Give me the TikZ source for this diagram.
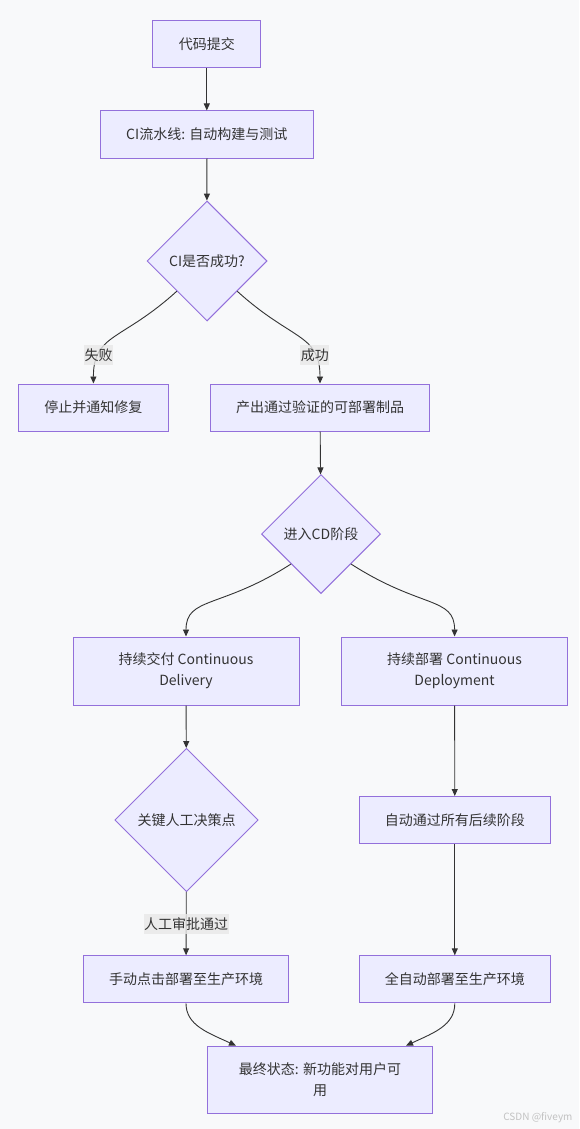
\documentclass[tikz,border=0pt]{standalone}
\usepackage{fontspec}
\setmainfont{Noto Sans CJK SC}
\usepackage{xcolor}
\definecolor{cBg}{HTML}{F8F9FA}
\definecolor{cFill}{HTML}{ECECFF}
\definecolor{cBorder}{HTML}{9370DB}
\definecolor{cLine}{HTML}{333333}
\definecolor{cText}{HTML}{333333}
\definecolor{cLabel}{HTML}{E8E8E8}
\definecolor{cMark}{HTML}{C2C2C2}
\usepackage{tikz}
\usetikzlibrary{arrows.meta,shapes.geometric}
\tikzset{
  node-box/.style={draw=cBorder,fill=cFill,line width=1pt,minimum height=47pt,
    inner sep=0pt,align=center,text=cText,font=\fontsize{14}{21}\selectfont},
  node-decision/.style={draw=cBorder,fill=cFill,line width=1pt,diamond,aspect=1,
    inner sep=0pt,align=center,text=cText,font=\fontsize{14}{21}\selectfont},
  % 边上的标签：半透明灰底
  edge-label/.style={fill=cLabel,fill opacity=0.8,text opacity=1,text=cText,
    inner sep=0.5pt,minimum height=20pt,font=\fontsize{14}{21}\selectfont},
  arrow/.style={-{Triangle[length=7pt,width=6pt]},line width=0.9pt,draw=cLine},
}
\begin{document}
\begin{tikzpicture}[x=1pt,y=-1pt]
  \fill[cBg] (0,0) rectangle (579,1129);
  \useasboundingbox (0,0) rectangle (579,1129);
  \node[node-box,minimum width=108pt] (commit) at (206.8,44.5) {代码提交};
  \node[node-box,minimum width=213pt] (ci) at (206.8,134.5) {CI流水线: 自动构建与测试};
  \node[node-decision,minimum size=120pt] (ciok) at (207,261) {CI是否成功?};
  \node[node-box,minimum width=150pt] (fix) at (93.4,407.5) {停止并通知修复};
  \node[node-box,minimum width=218.6pt] (artifact) at (320,407.5) {产出通过验证的可部署制品};
  \node[node-decision,minimum size=119pt] (cd) at (321,534) {进入CD阶段};
  \node[node-box,minimum width=226pt,minimum height=68pt] (delivery) at (186,671) {持续交付 Continuous\\Delivery};
  \node[node-box,minimum width=226pt,minimum height=68pt] (deploy) at (454.6,671) {持续部署 Continuous\\Deployment};
  \node[node-decision,minimum size=143.4pt] (manual) at (186.5,820) {关键人工决策点};
  \node[node-box,minimum width=191pt] (autopass) at (454.8,820) {自动通过所有后续阶段};
  \node[node-box,minimum width=205pt] (manualdeploy) at (186,979.3) {手动点击部署至生产环境};
  \node[node-box,minimum width=191pt] (autodeploy) at (454.8,979.3) {全自动部署至生产环境};
  \node[node-box,minimum width=225pt,minimum height=67pt] (final) at (320,1079.7) {最终状态: 新功能对用户可\\用};
  \node[anchor=east,text=cMark,font=\fontsize{10}{12}\selectfont] (mark) at (576,1118) {CSDN @fiveym};

  \foreach \a/\b in {commit/ci, ci/ciok, artifact/cd, delivery/manual, deploy/autopass, autopass/autodeploy}
    \draw[arrow] (\a) -- (\b);
  \draw[arrow] (ciok.south west) .. controls +(-55,50) and +(0,-50) .. node[edge-label,pos=0.75] {失败} (fix.north);
  \draw[arrow] (ciok.south east) .. controls +(55,50) and +(0,-50) .. node[edge-label,pos=0.75] {成功} (artifact.north);
  \draw[arrow] (cd.south west) .. controls +(-70,45) and +(0,-40) .. (delivery.north);
  \draw[arrow] (cd.south east) .. controls +(70,45) and +(0,-40) .. (deploy.north);
  \draw[arrow] (manual) -- node[edge-label] {人工审批通过} (manualdeploy);
  \draw[arrow] (manualdeploy.south) .. controls +(0,22) and +(-28,-13) .. ([xshift=29pt]final.north west);
  \draw[arrow] (autodeploy.south) .. controls +(0,22) and +(28,-13) .. ([xshift=-27pt]final.north east);
\end{tikzpicture}
\end{document}
